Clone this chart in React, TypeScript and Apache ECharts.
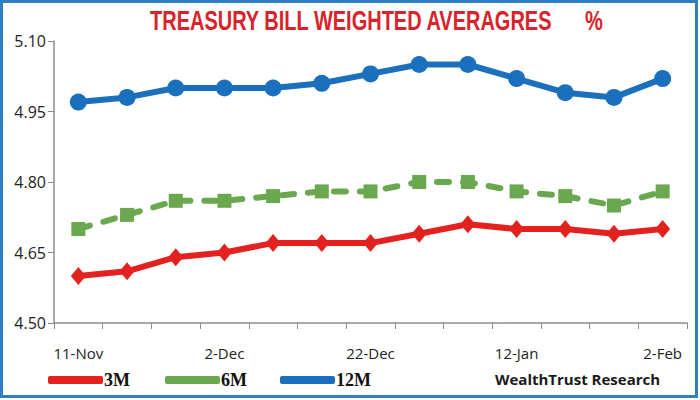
import React, { useEffect, useRef } from "react";
import * as echarts from "echarts";

const categories = [
  "11-Nov", "18-Nov", "25-Nov", "2-Dec", "9-Dec", "16-Dec", "22-Dec",
  "29-Dec", "5-Jan", "12-Jan", "19-Jan", "26-Jan", "2-Feb",
];
const m3 = [4.60, 4.61, 4.64, 4.65, 4.67, 4.67, 4.67, 4.69, 4.71, 4.70, 4.70, 4.69, 4.70];
const m6 = [4.70, 4.73, 4.76, 4.76, 4.77, 4.78, 4.78, 4.80, 4.80, 4.78, 4.77, 4.75, 4.78];
const m12 = [4.97, 4.98, 5.00, 5.00, 5.00, 5.01, 5.03, 5.05, 5.05, 5.02, 4.99, 4.98, 5.02];
const yTicks = { min: 4.5, max: 5.1, interval: 0.15 };

const RED = "#e3211f";
const GREEN = "#6aa84f";
const BLUE = "#1a70bd";
const FRAME = "#2f7fc0";

const TITLE = "TREASURY BILL WEIGHTED AVERAGRES";
const TITLE_FONT = "bold 27px 'Liberation Sans Narrow', 'Liberation Sans', sans-serif";

function measure(text: string, font: string): number {
  const c = document.createElement("canvas").getContext("2d");
  if (!c) return text.length * 14;
  c.font = font;
  return c.measureText(text).width;
}

export default function App() {
  const ref = useRef<HTMLDivElement>(null);
  useEffect(() => {
    if (!ref.current) return;
    const chart = echarts.init(ref.current, undefined, { renderer: "svg" });
    const tw = measure(TITLE, TITLE_FONT);
    const sx = 403 / tw;
    const legendText = {
      fontFamily: "'Liberation Serif', serif",
      fontWeight: "bold" as const,
      fontSize: 18,
      color: "#111",
    };
    const mkLegend = (name: string, left: number) => ({
      data: [name],
      left,
      top: 366,
      icon: "roundRect",
      itemWidth: 55,
      itemHeight: 8,
      itemGap: 0,
      textStyle: { ...legendText, padding: [0, 0, 0, -4] },
      selectedMode: false,
    });
    chart.setOption({
      animation: false,
      backgroundColor: "#ffffff",
      grid: { left: 54, right: 13, top: 41, bottom: 77 },
      legend: [mkLegend("3M", 43), mkLegend("6M", 160), mkLegend("12M", 275)],
      graphic: [
        {
          type: "rect",
          z: 100,
          shape: { x: 1.5, y: 1.5, width: 695, height: 395 },
          style: { fill: "rgba(0,0,0,0)", stroke: FRAME, lineWidth: 3 },
          silent: true,
        },
        {
          type: "text",
          x: 150,
          y: 20,
          scaleX: sx,
          style: {
            text: TITLE,
            font: TITLE_FONT,
            fill: "#d9222a",
            verticalAlign: "middle",
          },
        },
        {
          type: "text",
          x: 585,
          y: 20,
          scaleX: sx,
          style: {
            text: "%",
            font: TITLE_FONT,
            fill: "#d9222a",
            verticalAlign: "middle",
          },
        },
        {
          type: "text",
          x: 495,
          y: 379,
          style: {
            text: "WealthTrust Research",
            font: "bold 15px 'Open Sans', sans-serif",
            fill: "#1a1a1a",
            verticalAlign: "middle",
          },
        },
      ],
      xAxis: {
        type: "category",
        data: categories,
        boundaryGap: true,
        axisLine: { lineStyle: { color: "#8c8c8c", width: 1.5 } },
        axisTick: { show: true, interval: 0, length: 6, lineStyle: { color: "#8c8c8c" } },
        axisLabel: {
          interval: 2,
          margin: 22,
          fontSize: 15,
          fontFamily: "'Open Sans', sans-serif",
          color: "#222",
        },
      },
      yAxis: {
        type: "value",
        min: yTicks.min,
        max: yTicks.max,
        interval: yTicks.interval,
        splitLine: { show: false },
        axisLine: { show: true, lineStyle: { color: "#8c8c8c", width: 1.5 } },
        axisTick: { show: true, length: 6, lineStyle: { color: "#8c8c8c" } },
        axisLabel: {
          formatter: (v: number) => v.toFixed(2),
          fontSize: 16,
          margin: 8,
          fontFamily: "'Open Sans', sans-serif",
          color: "#222",
        },
      },
      series: [
        {
          name: "3M",
          type: "line",
          data: m3,
          symbol: "diamond",
          symbolSize: [15, 18],
          itemStyle: { color: RED },
          lineStyle: { color: RED, width: 6 },
        },
        {
          name: "6M",
          type: "line",
          data: m6,
          symbol: "rect",
          symbolSize: 14,
          itemStyle: { color: GREEN },
          lineStyle: { color: GREEN, width: 6, type: [12, 14], cap: "round" },
        },
        {
          name: "12M",
          type: "line",
          data: m12,
          symbol: "circle",
          symbolSize: 17,
          itemStyle: { color: BLUE },
          lineStyle: { color: BLUE, width: 6 },
        },
      ],
    });
    return () => chart.dispose();
  }, []);
  return (
    <div
      ref={ref}
      style={{ position: "fixed", left: 0, top: 0, width: 700, height: 400 }}
    />
  );
}
